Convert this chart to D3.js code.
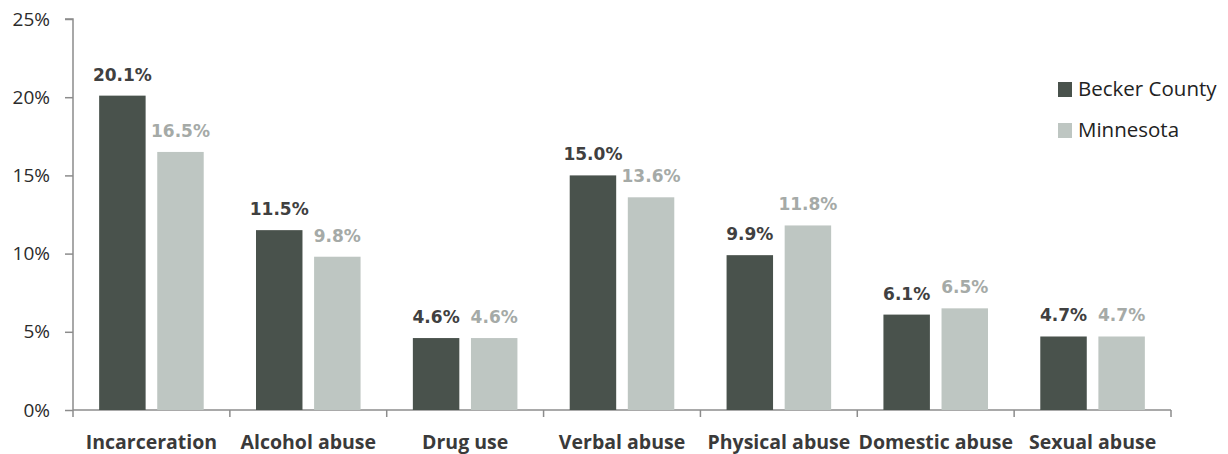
<!DOCTYPE html>
<html>
<head>
<meta charset="utf-8">
<script src="https://cdn.jsdelivr.net/npm/d3@7"></script>
<style>
  html, body { margin: 0; padding: 0; background: #fff; }
  svg { display: block; }
</style>
</head>
<body>
<svg id="chart"></svg>
<script>
const categories = ["Incarceration", "Alcohol abuse", "Drug use", "Verbal abuse", "Physical abuse", "Domestic abuse", "Sexual abuse"]
const seriesNames = ["Becker County", "Minnesota"]
const becker = [20.1, 11.5, 4.6, 15.0, 9.9, 6.1, 4.7]
const minnesota = [16.5, 9.8, 4.6, 13.6, 11.8, 6.5, 4.7]
const yTicks = [0, 5, 10, 15, 20, 25]

const full_width = 1228
const full_height = 454
const barColors = ["#49524c", "#bec6c2"]
const labelColors = ["#404040", "#a5aaa7"]

const svg = d3.select("#chart")
  .attr("width", full_width)
  .attr("height", full_height)

const plot_left = 73, plot_right = 1171, plot_top = 19, plot_bottom = 410

const x = d3.scaleBand()
  .domain(categories)
  .range([plot_left, plot_right])

const inner = d3.scaleBand()
  .domain(seriesNames)
  .range([0, x.bandwidth()])
  .paddingInner(0.2)
  .paddingOuter(0.45)

const y = d3.scaleLinear()
  .domain([0, 25])
  .range([plot_bottom, plot_top])

// y axis
const yaxis = d3.axisLeft(y).tickValues(yTicks).tickFormat(d => d + "%").tickSize(8).tickPadding(15)
svg.append("g")
  .attr("transform", `translate(${plot_left},0)`)
  .call(yaxis)
  .call(g => {
    g.selectAll("path, line").attr("stroke", "#8c8c8c").attr("stroke-width", 1.5)
    g.select(".domain").attr("d", `M-8,${plot_top}H0V${plot_bottom}`)
    g.selectAll("text")
      .attr("font-family", "'Open Sans', Lato, sans-serif")
      .attr("font-size", "19px")
      .attr("fill", "#2b2b2b")
  })

// x axis
const xaxis = d3.axisBottom(x).tickSize(0).tickPadding(25)
const xg = svg.append("g")
  .attr("transform", `translate(0,${plot_bottom})`)
  .call(xaxis)
xg.select(".domain").attr("stroke", "#8c8c8c").attr("stroke-width", 1.5).attr("d", `M${plot_left},0H${plot_right}`)
xg.selectAll("text")
  .attr("font-family", "'Open Sans', Lato, sans-serif")
  .attr("font-weight", "bold")
  .attr("font-size", "19.5px")
  .attr("fill", "#3a3a3a")
// category separator ticks
xg.append("g")
  .selectAll("line")
  .data(d3.range(categories.length + 1))
  .enter()
  .append("line")
  .attr("x1", i => plot_left + i * x.step())
  .attr("x2", i => plot_left + i * x.step())
  .attr("y1", 0)
  .attr("y2", 7)
  .attr("stroke", "#8c8c8c")
  .attr("stroke-width", 1.5)

// bars
const rows = categories.map((c, i) => ({ cat: c, values: [becker[i], minnesota[i]] }))
const groups = svg.append("g")
  .selectAll("g")
  .data(rows)
  .enter()
  .append("g")
  .attr("transform", d => `translate(${x(d.cat)},0)`)

groups.each(function(d) {
  const group = d3.select(this)
  d.values.forEach((v, si) => {
    group.append("rect")
      .attr("x", inner(seriesNames[si]))
      .attr("y", y(v))
      .attr("width", inner.bandwidth())
      .attr("height", y(0) - y(v))
      .attr("fill", barColors[si])

    group.append("text")
      .attr("x", inner(seriesNames[si]) + inner.bandwidth() / 2)
      .attr("y", y(v) - 15)
      .attr("text-anchor", "middle")
      .attr("font-family", "'DejaVu Sans', sans-serif")
      .attr("font-weight", "bold")
      .attr("font-size", "17px")
      .attr("fill", labelColors[si])
      .text(v.toFixed(1) + "%")
  })
})

// legend
const legend = svg.append("g")
  .attr("transform", "translate(1058,82)")
seriesNames.forEach((name, i) => {
  legend.append("rect")
    .attr("x", 0)
    .attr("y", i * 41)
    .attr("width", 14)
    .attr("height", 15)
    .attr("fill", barColors[i])
  legend.append("text")
    .attr("x", 20)
    .attr("y", i * 41 + 14)
    .attr("font-family", "'Open Sans', Lato, sans-serif")
    .attr("font-size", "20.5px")
    .attr("fill", "#222")
    .text(name)
})
</script>
</body>
</html>
